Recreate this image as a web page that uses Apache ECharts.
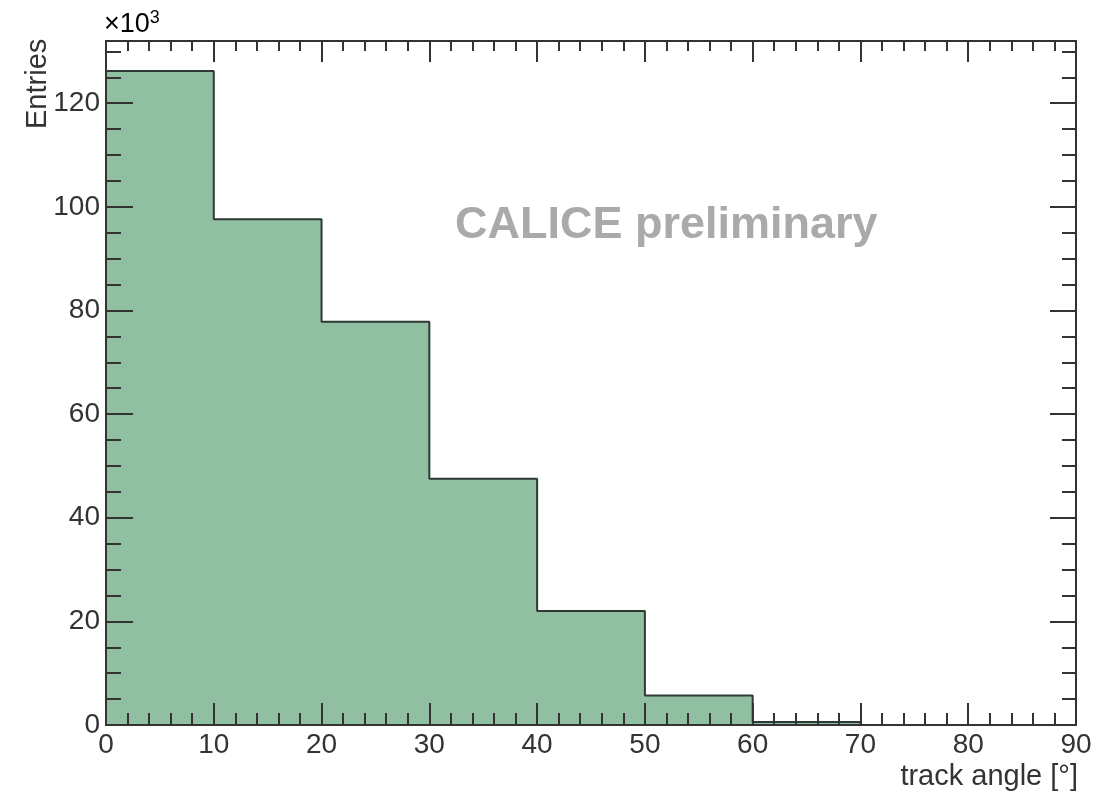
<!DOCTYPE html>
<html>
<head>
<meta charset="utf-8">
<script src="https://cdn.jsdelivr.net/npm/echarts@6/dist/echarts.min.js"></script>
<style>
html,body{margin:0;padding:0;background:#fff;}
#chart{width:1102px;height:794px;}
</style>
</head>
<body>
<div id="chart"></div>
<script>
// Histogram data (entries in units of 10^3)
const binEdges = [0, 10, 20, 30, 40, 50, 60, 70, 80, 90];
const entries = [126.2, 97.6, 77.8, 47.5, 22.0, 5.7, 0.6, 0, 0];
const xTicks = [0, 10, 20, 30, 40, 50, 60, 70, 80, 90];
const yTicks = [0, 20, 40, 60, 80, 100, 120];

const FONT = '"Liberation Sans", Arial, Helvetica, sans-serif';
const AX = '#333333';

// step outline points built from the bins
const stepData = entries.map((v, i) => [binEdges[i], v]);
stepData.push([binEdges[binEdges.length - 1], entries[entries.length - 1]]);

const chart = echarts.init(document.getElementById('chart'));

function yAxisCfg(pos, interval, len, showLine, showLabel) {
  return {
    type: 'value', position: pos, min: 0, max: 132, interval: interval, z: 10,
    axisLine: { show: showLine, lineStyle: { color: AX, width: 2 } },
    axisTick: { show: true, inside: true, length: len, lineStyle: { color: AX, width: 2 } },
    axisLabel: {
      show: showLabel, margin: 6, color: AX, fontSize: 28, fontFamily: FONT,
      formatter: v => (yTicks.indexOf(v) >= 0 ? String(v) : '')
    },
    splitLine: { show: false }
  };
}
function xAxisCfg(pos, len, mlen, showLabel) {
  return {
    type: 'value', position: pos, min: 0, max: 90, interval: 10, z: 10,
    axisLine: { show: true, onZero: false, lineStyle: { color: AX, width: 2 } },
    axisTick: { show: true, inside: true, length: len, lineStyle: { color: AX, width: 2 } },
    minorTick: { show: true, splitNumber: 5, length: mlen, lineStyle: { color: AX, width: 2 } },
    axisLabel: {
      show: showLabel, margin: 6, color: AX, fontSize: 28, fontFamily: FONT,
      formatter: v => (xTicks.indexOf(v) >= 0 ? String(v) : '')
    },
    splitLine: { show: false }
  };
}

chart.setOption({
  animation: false,
  backgroundColor: '#ffffff',
  grid: { left: 106, top: 41, right: 26, bottom: 69, containLabel: false },
  xAxis: [
    xAxisCfg('bottom', 22, 12, true),
    xAxisCfg('top', 21, 10, false)
  ],
  yAxis: [
    yAxisCfg('left', 20, 27, true, true),
    yAxisCfg('left', 5, 15, false, false),
    yAxisCfg('right', 20, 26, true, false),
    yAxisCfg('right', 5, 14, false, false)
  ],
  series: [{
    type: 'line',
    xAxisIndex: 0, yAxisIndex: 0,
    step: 'end',
    data: stepData,
    symbol: 'none',
    z: 2,
    lineStyle: { color: '#2e3a33', width: 2 },
    areaStyle: { color: '#91bfa1', opacity: 1, origin: 'start' }
  }],
  graphic: [
    {
      type: 'text', left: 455, top: 203, z: 20,
      style: { text: 'CALICE preliminary', fontSize: 45, fontWeight: 'bold', fontFamily: FONT, fill: '#aaaaaa' }
    },
    {
      type: 'text', x: 23, y: 129, rotation: Math.PI / 2, z: 20,
      style: { text: 'Entries', fontSize: 29, fontFamily: FONT, fill: AX, textAlign: 'left', textVerticalAlign: 'top' }
    },
    {
      type: 'text', x: 1078, y: 791, z: 20,
      style: { text: 'track angle [°]', fontSize: 29, fontFamily: FONT, fill: AX, textAlign: 'right', textVerticalAlign: 'bottom' }
    },
    {
      type: 'text', x: 104, y: 40, z: 20,
      style: {
        text: '{a|×10}{b|3}', textVerticalAlign: 'bottom', fontFamily: FONT,
        rich: {
          a: { fontSize: 27, fontFamily: FONT, color: AX },
          b: { fontSize: 18, fontFamily: FONT, color: AX, verticalAlign: 'top', padding: [0, 0, 13, 0] }
        }
      }
    }
  ]
});
</script>
</body>
</html>
